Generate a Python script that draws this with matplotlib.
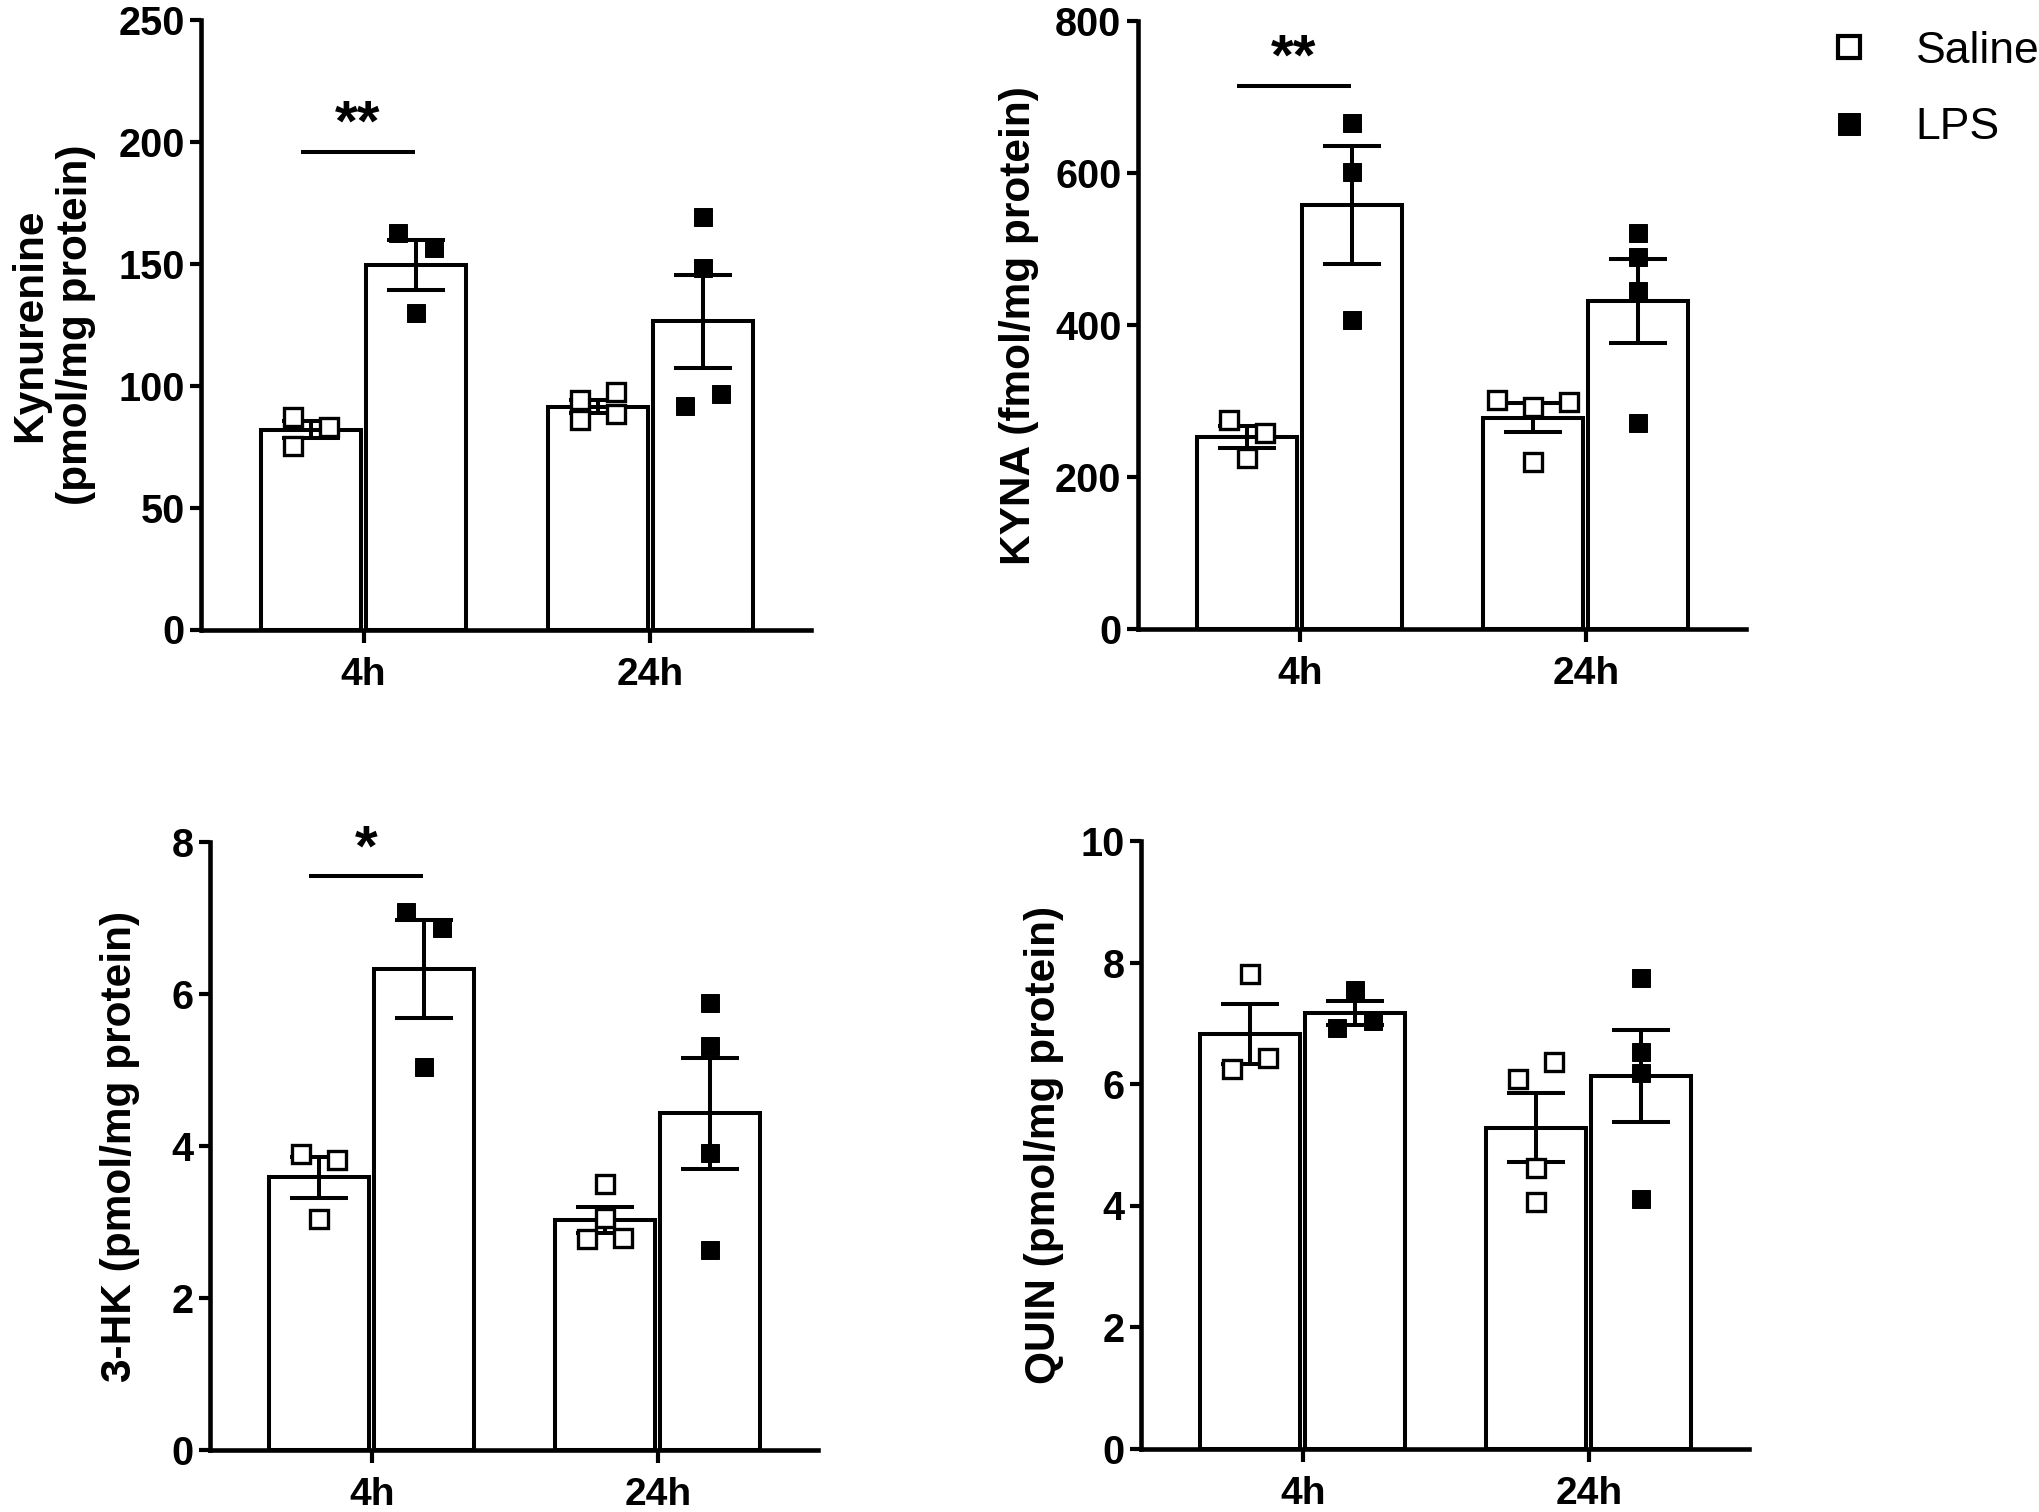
import numpy as np
import matplotlib
matplotlib.use('Agg')
import matplotlib.pyplot as plt
from matplotlib.lines import Line2D

plt.rcParams['font.family'] = ['Liberation Sans', 'DejaVu Sans']
plt.rcParams['font.weight'] = 'bold'

# ---------------- data ----------------
timepoints = ['4h', '24h']
treatments = ['Saline', 'LPS']

kyn_saline_4h = [87.3, 83.2, 75.3]
kyn_lps_4h = [162.5, 156.3, 129.7]
kyn_saline_24h = [85.8, 88.4, 94.0, 97.3]
kyn_lps_24h = [91.7, 96.5, 169.3, 148.1]

kyna_saline_4h = [275.3, 258.0, 225.8]
kyna_lps_4h = [665.4, 601.8, 406.8]
kyna_saline_24h = [292.9, 299.4, 301.6, 220.0]
kyna_lps_24h = [520.8, 490.1, 445.4, 270.9]

hk_saline_4h = [3.90, 3.82, 3.04]
hk_lps_4h = [7.08, 6.87, 5.04]
hk_saline_24h = [2.77, 2.79, 3.05, 3.50]
hk_lps_24h = [5.88, 5.31, 3.91, 2.63]

quin_saline_4h = [6.24, 6.42, 7.81]
quin_lps_4h = [6.93, 7.03, 7.55]
quin_saline_24h = [6.09, 6.37, 4.62, 4.05]
quin_lps_24h = [7.74, 6.52, 6.18, 4.10]

ylabels = ['Kynurenine\n(pmol/mg protein)', 'KYNA (fmol/mg protein)',
           '3-HK (pmol/mg protein)', 'QUIN (pmol/mg protein)']
ymax = [250, 800, 8, 10]
ystep = [50, 200, 2, 2]
sig_y = [196, 714.5, 7.55, None]
sig_text = ['**', '**', '*', None]

panel_data = [
    [[kyn_saline_4h, kyn_lps_4h], [kyn_saline_24h, kyn_lps_24h]],
    [[kyna_saline_4h, kyna_lps_4h], [kyna_saline_24h, kyna_lps_24h]],
    [[hk_saline_4h, hk_lps_4h], [hk_saline_24h, hk_lps_24h]],
    [[quin_saline_4h, quin_lps_4h], [quin_saline_24h, quin_lps_24h]],
]

# ---------------- layout / style ----------------
W, H = 2040, 1512
rects_px = [  # left, top, right, bottom in pixels
    (201.5, 20, 811, 629.5),
    (1138, 21, 1746, 629.3),
    (210, 842, 818, 1450),
    (1141, 841, 1749, 1448.5),
]
ylabel_x = [-0.244, -0.196, -0.148, -0.159]
LW = 2.9
offset = 0.183
bar_w = 0.35


def swarm_offsets(values, ppu_y, thr_px=19.5, step_px=36.0):
    n = len(values)
    offs = [0.0] * n
    parent = list(range(n))

    def find(i):
        while parent[i] != i:
            parent[i] = parent[parent[i]]
            i = parent[i]
        return i

    placed = []
    for i, v in enumerate(values):
        near = [j for j in placed if abs(values[j] - v) * ppu_y < thr_px]
        for c in [0, 1, -1, 2, -2, 3, -3]:
            if all(abs(offs[j] - c * step_px) >= step_px * 0.9 for j in near):
                offs[i] = c * step_px
                break
        for j in near:
            parent[find(j)] = find(i)
        placed.append(i)
    grp = {}
    for i in range(n):
        grp.setdefault(find(i), []).append(i)
    for g in grp.values():
        mid = (max(offs[i] for i in g) + min(offs[i] for i in g)) / 2
        for i in g:
            offs[i] -= mid
    return offs


fig = plt.figure(figsize=(W / 100, H / 100), dpi=100)

for p, (l, t, r, b) in enumerate(rects_px):
    ax = fig.add_axes([l / W, 1 - b / H, (r - l) / W, (b - t) / H])
    ax.set_xlim(-0.565, 1.56)
    ax.set_ylim(0, ymax[p])
    ppu_y = ax.bbox.height / ymax[p]
    ppu_x = ax.bbox.width / (1.56 + 0.565)

    for g, tp in enumerate(timepoints):
        for k, trt in enumerate(treatments):
            vals = np.array(panel_data[p][g][k], dtype=float)
            xc = g + (-offset if k == 0 else offset)
            mean = vals.mean()
            sem = vals.std(ddof=1) / np.sqrt(len(vals))
            ax.bar(xc, mean, width=bar_w, color='white', edgecolor='black',
                   linewidth=LW, zorder=2)
            ax.errorbar(xc, mean, yerr=sem, fmt='none', ecolor='black',
                        elinewidth=LW, capsize=21, capthick=LW, zorder=3)
            offs = swarm_offsets(list(vals), ppu_y)
            xs = xc + np.array(offs) / ppu_x
            if k == 0:
                ax.plot(xs, vals, ls='none', marker='s', ms=13.4, mew=2.4,
                        mfc='white', mec='black', zorder=4, clip_on=False)
            else:
                ax.plot(xs, vals, ls='none', marker='s', ms=13, mew=0.7,
                        mfc='black', mec='black', zorder=4, clip_on=False)

    if sig_y[p] is not None:
        x1, x2 = -offset - 0.035, offset - 0.005
        ax.plot([x1, x2], [sig_y[p], sig_y[p]], color='black', lw=LW,
                solid_capstyle='butt', zorder=3)
        ax.annotate(sig_text[p], xy=((x1 + x2) / 2, sig_y[p]), xytext=(0, 8),
                    textcoords='offset points', ha='center', va='baseline',
                    fontsize=42, fontweight='bold')

    ax.set_xticks(range(len(timepoints)))
    ax.set_xticklabels(timepoints)
    ax.set_yticks(np.arange(0, ymax[p] + ystep[p] / 2, ystep[p]))
    ax.tick_params(axis='y', length=8, width=3, pad=4, labelsize=28.5)
    ax.tick_params(axis='x', length=9.5, width=3, pad=10, labelsize=28)
    for s in ['top', 'right']:
        ax.spines[s].set_visible(False)
    for s in ['left', 'bottom']:
        ax.spines[s].set_linewidth(3.3)
    ax.set_ylabel(ylabels[p], fontsize=30.5, fontweight='bold', va='center',
                  ha='center', linespacing=1.2)
    ax.yaxis.set_label_coords(ylabel_x[p], 0.5)
    ax.patch.set_visible(False)

handles = [
    Line2D([], [], ls='none', marker='s', ms=16.5, mew=3, mfc='white', mec='black'),
    Line2D([], [], ls='none', marker='s', ms=15.5, mew=0.7, mfc='black', mec='black'),
]
fig.legend(handles, treatments, loc='center left',
           bbox_to_anchor=(1826.8 / W, 1 - 89.5 / H), frameon=False,
           prop={'size': 32, 'weight': 'normal'}, handlelength=1.0,
           handletextpad=1.0, labelspacing=0.8, borderpad=0, borderaxespad=0)

fig.savefig('out.png', dpi=100, facecolor='white')
